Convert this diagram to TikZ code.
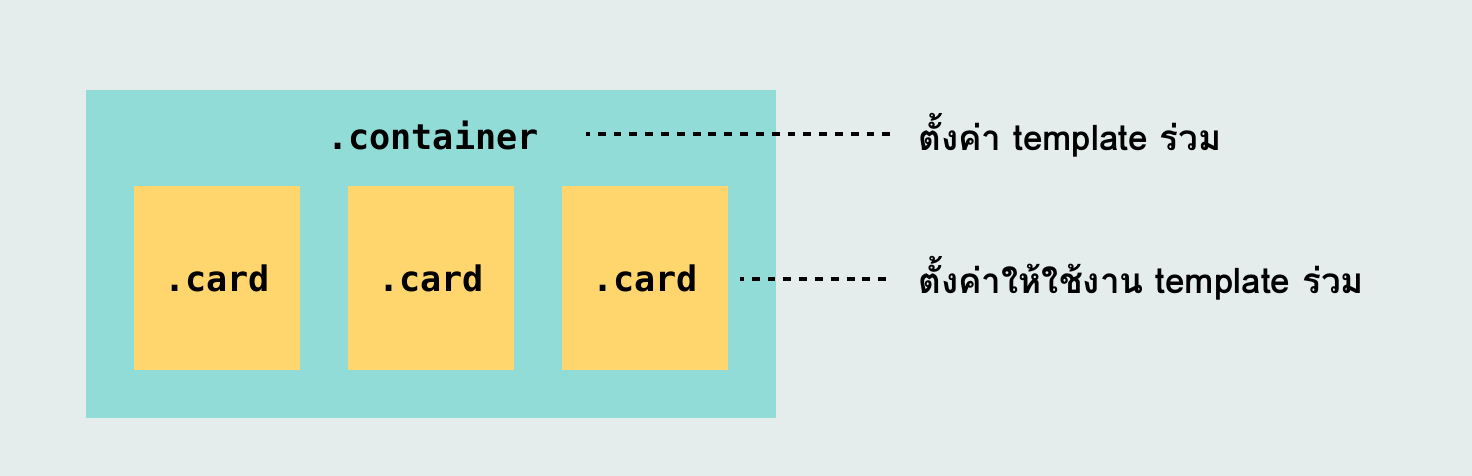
\documentclass[tikz,border=0pt]{standalone}
\usepackage{fontspec}
\setmonofont{DejaVu Sans Mono}
\newfontfamily\thaifont[Script=Thai]{Loma}
\usetikzlibrary{positioning}
\definecolor{bgcol}{RGB}{228,237,236}
\definecolor{contcol}{RGB}{145,220,214}
\definecolor{cardcol}{RGB}{255,213,110}

\begin{document}
\begin{tikzpicture}[x=0.02cm, y=-0.02cm,
    code/.style={font=\ttfamily\bfseries\fontsize{20}{24}\selectfont, text=black},
    cardbox/.style={fill=cardcol, minimum width=3.32cm, minimum height=3.68cm, inner sep=0pt},
    note/.style={font=\thaifont\bfseries\fontsize{20}{24}\selectfont, anchor=west, inner sep=0pt},
    guide/.style={line width=2pt, dash pattern=on 4.5pt off 4.5pt, dash phase=2.3pt}]
  % Background
  \fill[bgcol] (0,0) rectangle (1472,476);
  % Container
  \node[fill=contcol, minimum width=13.8cm, minimum height=6.56cm, inner sep=0pt] (cont) at (431,254) {};
  \node[code] (ctext) at (433,135) {.container};
  % Cards
  \foreach \cx/\nm in {217/c1, 431/c2, 645/c3}
    \node[cardbox] (\nm) at (\cx,278) {};
  \foreach \nm in {c1,c2,c3}
    \node[code] at (\nm) {.card};
  % Notes
  \node[note] (n1) at (918,135) {ตั้งค่า template ร่วม};
  \node[note] (n2) at (918,278) {ตั้งค่าให้ใช้งาน template ร่วม};
  % Guide lines
  \coordinate (g1) at (586,134);
  \coordinate (g2) at (740,279);
  \draw[guide] (g1) -- ([xshift=-0.52cm]g1 -| n1.west);
  \draw[guide] (g2) -- ([xshift=-0.52cm]g2 -| n2.west);
\end{tikzpicture}
\end{document}
